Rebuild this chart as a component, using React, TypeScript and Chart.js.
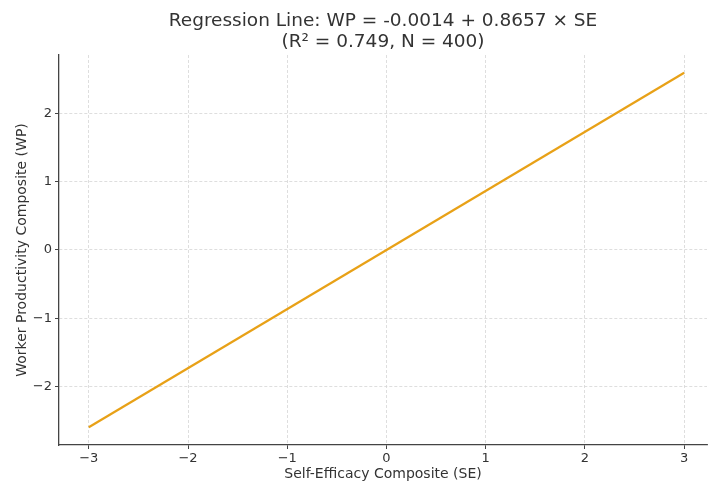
import React, { useEffect, useRef } from "react";
import { Chart, registerables } from "chart.js";

Chart.register(...registerables);

const titleLines = ["Regression Line: WP = -0.0014 + 0.8657 × SE", "(R² = 0.749, N = 400)"];
const xLabel = "Self-Efficacy Composite (SE)";
const yLabel = "Worker Productivity Composite (WP)";
const lineX = [-3, 3];
const lineY = [-2.5985, 2.5957];
const xRange = [-3.3, 3.23];
const yRange = [-2.858, 2.855];

const FONT = "'DejaVu Sans', sans-serif";

const fmt = (v: number | string) => {
  const n = Number(v);
  return n < 0 ? "\u2212" + Math.abs(n) : String(n);
};

const axesTitle = {
  id: "axesTitle",
  afterDraw(chart: any) {
    const { ctx, chartArea } = chart;
    const cx = (chartArea.left + chartArea.right) / 2;
    ctx.save();
    ctx.fillStyle = "#333333";
    ctx.font = `18.5px ${FONT}`;
    ctx.textAlign = "center";
    ctx.textBaseline = "middle";
    ctx.fillText(titleLines[0], cx, 21);
    ctx.fillText(titleLines[1], cx, 42);
    ctx.restore();
  },
};

export default function App() {
  const ref = useRef<HTMLCanvasElement>(null);
  useEffect(() => {
    document.body.style.margin = "0";
    const ctx = ref.current!;
    const gridCommon = {
      color: "#d6d6d6",
      lineWidth: 0.8,
      tickColor: "#444444",
      tickLength: 4,
      tickWidth: 1,
      tickBorderDash: [],
    };
    const chart = new Chart(ctx, {
      type: "line",
      data: {
        datasets: [
          {
            data: lineX.map((x, i) => ({ x, y: lineY[i] })),
            borderColor: "#E8A117",
            borderWidth: 2.2,
            pointRadius: 0,
            fill: false,
          },
        ],
      },
      plugins: [axesTitle],
      options: {
        animation: false,
        responsive: false,
        maintainAspectRatio: false,
        layout: { padding: { left: 10, right: 1, top: 55, bottom: 0 } },
        plugins: {
          legend: { display: false },
          tooltip: { enabled: false },
          title: { display: false },
        },
        scales: {
          x: {
            type: "linear",
            min: xRange[0],
            max: xRange[1],
            afterFit: (s: any) => {
              s.height = 38;
            },
            ticks: {
              stepSize: 1,
              includeBounds: false,
              color: "#333333",
              font: { family: FONT, size: 13 },
              padding: 2,
              maxRotation: 0,
              callback: (v: any) => fmt(v),
            },
            grid: gridCommon,
            border: { display: true, color: "#444444", width: 1.3, dash: [3, 2] },
            title: {
              display: true,
              text: xLabel,
              color: "#333333",
              font: { family: FONT, size: 14 },
              padding: { top: 0, bottom: 0 },
            },
          },
          y: {
            type: "linear",
            min: yRange[0],
            max: yRange[1],
            afterFit: (s: any) => {
              s.width = 49;
            },
            ticks: {
              stepSize: 1,
              includeBounds: false,
              color: "#333333",
              font: { family: FONT, size: 13 },
              padding: 3,
              callback: (v: any) => fmt(v),
            },
            grid: gridCommon,
            border: { display: true, color: "#444444", width: 1.3, dash: [3, 2] },
            title: {
              display: true,
              text: yLabel,
              color: "#333333",
              font: { family: FONT, size: 14 },
              padding: { top: 4, bottom: 0 },
            },
          },
        },
      },
    } as any);
    return () => chart.destroy();
  }, []);
  return <canvas ref={ref} width={708} height={483} style={{ display: "block" }} />;
}
